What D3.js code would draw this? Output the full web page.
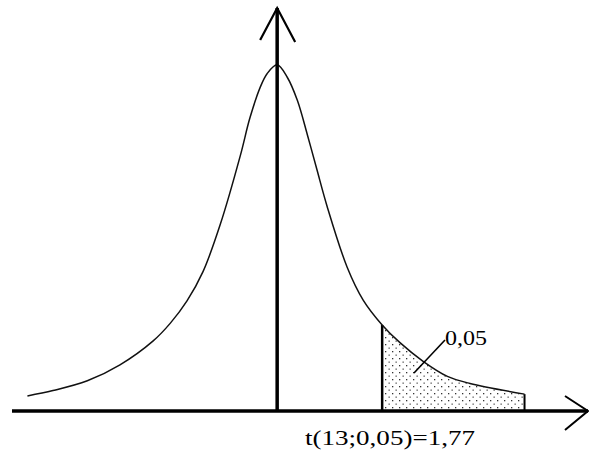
<!DOCTYPE html>
<html>
<head>
<meta charset="utf-8">
<script src="https://cdn.jsdelivr.net/npm/d3@7"></script>
<style>
  html, body { margin: 0; padding: 0; background: #fff; }
  svg { display: block; }
</style>
</head>
<body>
<script>
// Student t density (13 d.f.) sketched as sampled points
const tValues = [-4.21, -3.78, -3.20, -2.65, -2.09, -1.80, -1.52, -1.25, -0.96, -0.62, -0.46, -0.29, -0.17, 0,
                 0.17, 0.34, 0.51, 0.67, 0.84, 1.18, 1.45, 1.77, 2.07, 2.46, 2.87, 3.25, 4.17];
const density = [0.017, 0.023, 0.034, 0.052, 0.079, 0.099, 0.124, 0.157, 0.210, 0.288, 0.330, 0.364, 0.380, 0.390,
                 0.376, 0.350, 0.311, 0.272, 0.231, 0.162, 0.125, 0.097, 0.077, 0.056, 0.039, 0.031, 0.019];
const criticalT = 1.77;
const tailLabel = "0,05";
const criticalLabel = "t(13;0,05)=1,77";

const W = 589, H = 452;
const svg = d3.select("body").append("svg").attr("width", W).attr("height", H);

const x = d3.scaleLinear().domain([-4.47, 5.24]).range([12, 588]);
const y = d3.scaleLinear().domain([0, 0.454]).range([411, 8]);

const pts = tValues.map((t, i) => ({ t, d: density[i] }));
const tail = pts.filter(p => p.t >= criticalT);
const smooth = d3.curveCatmullRom.alpha(0.5);

// dotted fill for the rejection region
const defs = svg.append("defs");
const pat = defs.append("pattern").attr("id", "dots").attr("patternUnits", "userSpaceOnUse")
  .attr("width", 7).attr("height", 7).attr("x", 383).attr("y", 0);
pat.append("rect").attr("x", 2).attr("y", 1).attr("width", 1.3).attr("height", 1.3).attr("fill", "#333");
pat.append("rect").attr("x", 5.5).attr("y", 4.5).attr("width", 1.3).attr("height", 1.3).attr("fill", "#555");

const area = d3.area().x(p => x(p.t)).y0(y(0)).y1(p => y(p.d)).curve(smooth);
svg.append("path").datum(tail).attr("d", area).attr("fill", "url(#dots)");

// borders of the shaded region
const tEnd = tail[tail.length - 1];
svg.append("line").attr("x1", x(criticalT)).attr("x2", x(criticalT))
  .attr("y1", y(tail[0].d)).attr("y2", y(0)).attr("stroke", "#000").attr("stroke-width", 2.5);
svg.append("line").attr("x1", x(tEnd.t)).attr("x2", x(tEnd.t))
  .attr("y1", y(tEnd.d)).attr("y2", y(0)).attr("stroke", "#000").attr("stroke-width", 2);

// density curve
const line = d3.line().x(p => x(p.t)).y(p => y(p.d)).curve(smooth);
svg.append("path").datum(pts).attr("d", line).attr("fill", "none")
  .attr("stroke", "#111").attr("stroke-width", 1.5);

// axes with open arrow heads
const x0 = x(0), y0 = y(0);
const [xl, xr] = x.range();
const yTop = y.range()[1];
svg.append("line").attr("x1", xl).attr("x2", xr).attr("y1", y0).attr("y2", y0)
  .attr("stroke", "#000").attr("stroke-width", 3.5);
svg.append("line").attr("x1", x0).attr("x2", x0).attr("y1", y0).attr("y2", yTop)
  .attr("stroke", "#000").attr("stroke-width", 3.5);
svg.append("path").attr("d", `M${xr - 23},${y0 - 15} L${xr},${y0} L${xr - 23},${y0 + 19}`)
  .attr("fill", "none").attr("stroke", "#000").attr("stroke-width", 2);
svg.append("path").attr("d", `M${x0 - 17},${yTop + 32} L${x0},${yTop} L${x0 + 18},${yTop + 34}`)
  .attr("fill", "none").attr("stroke", "#000").attr("stroke-width", 2.2);

// tail probability label with leader
svg.append("line").attr("x1", 414).attr("y1", 373).attr("x2", 445).attr("y2", 340)
  .attr("stroke", "#000").attr("stroke-width", 1.6);
svg.append("text").attr("x", 445).attr("y", 345)
  .attr("font-family", "Liberation Serif, Times New Roman, serif").attr("font-size", 20.5)
  .attr("textLength", 42).attr("lengthAdjust", "spacingAndGlyphs")
  .text(tailLabel);

// critical value label
svg.append("text").attr("x", 305).attr("y", 445)
  .attr("font-family", "Liberation Serif, Times New Roman, serif").attr("font-size", 20.5)
  .attr("textLength", 170).attr("lengthAdjust", "spacingAndGlyphs")
  .text(criticalLabel);
</script>
</body>
</html>
